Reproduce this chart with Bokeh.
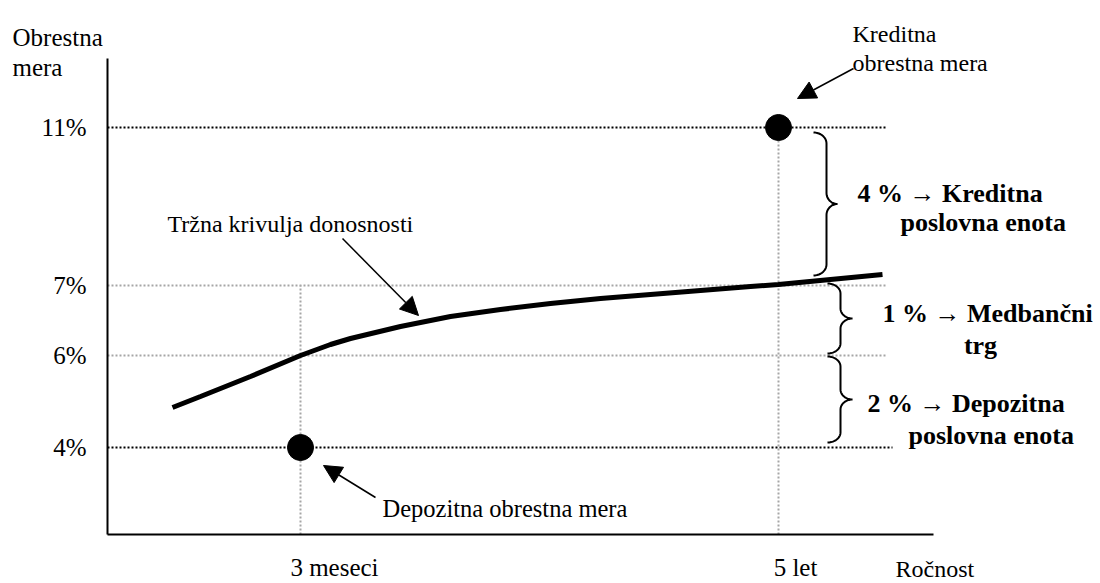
import numpy as np
from bokeh.plotting import figure
from bokeh.models import Range1d, FixedTicker, Label, Arrow, NormalHead
from bokeh.embed import file_html
from bokeh.resources import INLINE

# ---- data (schematic diagram units: x = maturity axis position, y = rate level height) ----
rate_labels = ["4%", "6%", "7%", "11%"]
rate_levels = [87, 179, 249, 407]
maturity_labels = ["3 meseci", "5 let"]
maturity_pos = [193, 671]

# market yield curve (Tržna krivulja donosnosti)
curve_x = [65, 93, 143, 193, 223, 243, 293, 343, 393, 443, 493, 543, 593, 643, 671, 723, 775]
curve_y = [127, 138, 158, 179, 190, 196, 208, 218, 225, 231, 236, 240, 244, 248, 250, 255, 260]

# deposit rate (3 meseci, 4%) and loan rate (5 let, 11%)
point_x = [maturity_pos[0], maturity_pos[1]]
point_y = [rate_levels[0], rate_levels[3]]

# spreads: (upper rate idx, lower rate idx, label line 1, label line 2)
spread_upper = [3, 2, 1]
spread_lower = [2, 1, 0]
spread_line1 = ["4 % \u2192 Kreditna", "1 % \u2192 Medban\u010dni", "2 % \u2192 Depozitna"]
spread_line2 = ["poslovna enota", "trg", "poslovna enota"]

FONT = "Liberation Serif"

p = figure(width=1100, height=583, x_range=Range1d(-107, 993), y_range=Range1d(-49, 534),
           output_backend="svg", toolbar_location=None, min_border=0)
p.xgrid.visible = False
p.ygrid.visible = False
p.outline_line_color = None
p.background_fill_color = "white"
p.border_fill_color = "white"

for ax in (p.xaxis[0], p.yaxis[0]):
    ax.fixed_location = 0
    ax.axis_line_width = 2
    ax.axis_line_color = "black"
    ax.major_tick_line_color = None
    ax.minor_tick_line_color = None
    ax.major_label_text_font = FONT
    ax.major_label_text_font_size = "25px"
    ax.major_label_text_color = "black"

p.yaxis[0].bounds = (0, 476)
p.yaxis[0].ticker = FixedTicker(ticks=rate_levels)
p.yaxis[0].major_label_overrides = {v: t for v, t in zip(rate_levels, rate_labels)}
p.yaxis[0].major_label_standoff = 15

# tick labels sit a little right of the maturity guide lines in the original
label_shift = [34, 17]
xtick = [m + s for m, s in zip(maturity_pos, label_shift)]
p.xaxis[0].bounds = (0, 826)
p.xaxis[0].ticker = FixedTicker(ticks=xtick)
p.xaxis[0].major_label_overrides = {v: t for v, t in zip(xtick, maturity_labels)}
p.xaxis[0].major_label_standoff = 13

# horizontal guide lines at rate levels
guide_end = 778
for lvl, lab in zip(rate_levels, rate_labels):
    black = lab in ("4%", "11%")
    p.segment(x0=[0], y0=[lvl], x1=[guide_end + (7 if lab == "4%" else 0)], y1=[lvl],
              line_color="black" if black else "#a6a6a6", line_width=2, line_dash="2 2")

# vertical guide lines at maturities
p.segment(x0=[maturity_pos[0]], y0=[0], x1=[maturity_pos[0]], y1=[rate_levels[2]],
          line_color="#a6a6a6", line_width=2, line_dash="2 2")
p.segment(x0=[maturity_pos[1]], y0=[0], x1=[maturity_pos[1]], y1=[rate_levels[3]],
          line_color="#a6a6a6", line_width=2, line_dash="2 2")

# yield curve
p.line(curve_x, curve_y, line_width=5, line_color="black")

# rate points
p.scatter(point_x, point_y, size=26, fill_color="black", line_color="black")


# curly braces
def brace(xl, xs, xt, ytop, ybot, r):
    ymid = (ytop + ybot) / 2
    rx1, rx2 = xs - xl, xt - xs
    t = np.linspace(np.pi / 2, 0, 12)
    a_x = xl + rx1 * np.cos(t); a_y = (ytop - r) + r * np.sin(t)
    t2 = np.linspace(np.pi, 1.5 * np.pi, 12)
    b_x = xt + rx2 * np.cos(t2); b_y = (ymid + r) + r * np.sin(t2)
    t3 = np.linspace(0.5 * np.pi, np.pi, 12)
    c_x = xt + rx2 * np.cos(t3); c_y = (ymid - r) + r * np.sin(t3)
    t4 = np.linspace(0, -np.pi / 2, 12)
    d_x = xl + rx1 * np.cos(t4); d_y = (ybot + r) + r * np.sin(t4)
    return np.concatenate([a_x, b_x, c_x, d_x]), np.concatenate([a_y, b_y, c_y, d_y])

brace_geo = [(706, 719, 730, -5, 10, 11), (720, 733, 745, 2, 2, 10), (720, 733, 745, -1, 5, 10)]
for (ui, li), (xl, xs, xt, pt, pb, r) in zip(zip(spread_upper, spread_lower), brace_geo):
    bx, by = brace(xl, xs, xt, rate_levels[ui] + pt, rate_levels[li] + pb, r)
    p.line(bx, by, line_color="black", line_width=2)

# spread labels
lab_pos = [((750, 341), (793, 312)), ((775, 221), (873, 189)), ((760, 131), (801, 99))]
for l1, l2, ((x1, y1), (x2, y2)) in zip(spread_line1, spread_line2, lab_pos):
    p.add_layout(Label(x=x1, y=y1, text=l1, text_font=FONT, text_font_size="26px",
                       text_font_style="bold", text_color="black",
                       text_baseline="alphabetic", text_align="left"))
    p.add_layout(Label(x=x2, y=y2, text=l2, text_font=FONT, text_font_size="26px",
                       text_font_style="bold", text_color="black", text_baseline="alphabetic",
                       text_align="center" if l2 == "trg" else "left"))


def txt(x, y, s, size="24px", align="left"):
    p.add_layout(Label(x=x, y=y, text=s, text_font=FONT, text_font_size=size,
                       text_baseline="alphabetic", text_align=align, text_color="black"))

txt(-95, 497, "Obrestna", "25px")
txt(-95, 467, "mera", "25px")
txt(788, -34, "Ro\u010dnost")
txt(745, 501, "Kreditna")
txt(745, 472, "obrestna mera")
txt(60, 311, "Tr\u017ena krivulja donosnosti")
txt(275, 26, "Depozitna obrestna mera", "24.5px")


def arrow(x0, y0, x1, y1):
    p.add_layout(Arrow(end=NormalHead(size=18, fill_color="black", line_color="black"),
                       x_start=x0, y_start=y0, x_end=x1, y_end=y1,
                       line_color="black", line_width=1.5))

arrow(746, 466, 690, 436)
arrow(235, 296, 311, 219)
arrow(268, 37, 216, 69)

open("out.html", "w").write(file_html(p, INLINE))
